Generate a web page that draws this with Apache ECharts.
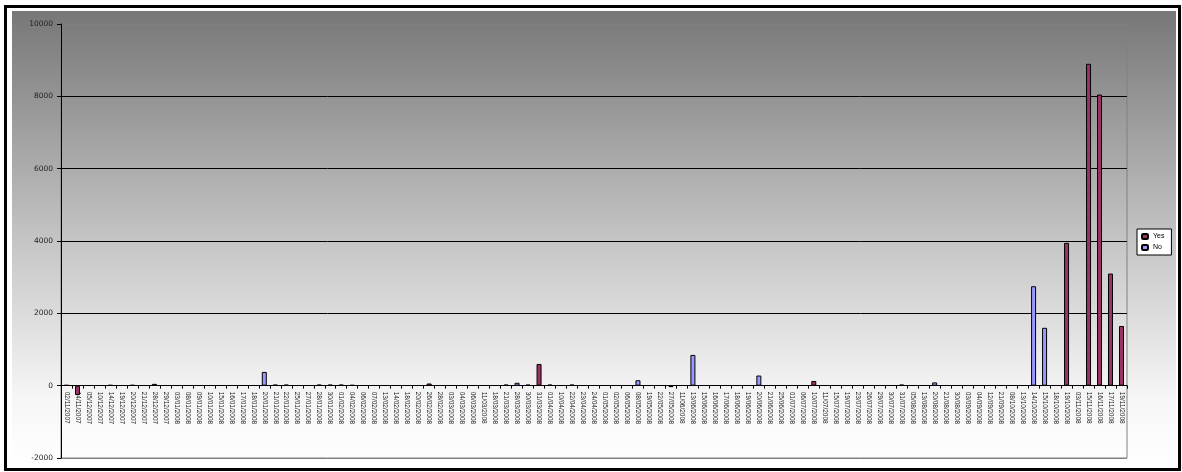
<!DOCTYPE html>
<html>
<head>
<meta charset="utf-8">
<script src="https://cdn.jsdelivr.net/npm/echarts@6/dist/echarts.min.js"></script>
<style>
  html, body { margin: 0; padding: 0; background: #ffffff; }
  #chart { width: 1182px; height: 472px; }
</style>
</head>
<body>
<div id="chart"></div>
<script>
// Trading days (dd/mm/yyyy)
const categories = [
  '02/11/2007','14/11/2007','05/12/2007','10/12/2007','14/12/2007','19/12/2007','20/12/2007','21/12/2007','28/12/2007','29/12/2007',
  '03/01/2008','08/01/2008','09/01/2008','10/01/2008','15/01/2008','16/01/2008','17/01/2008','18/01/2008','20/01/2008','21/01/2008',
  '22/01/2008','25/01/2008','27/01/2008','28/01/2008','30/01/2008','01/02/2008','04/02/2008','06/02/2008','07/02/2008','13/02/2008',
  '14/02/2008','18/02/2008','20/02/2008','26/02/2008','28/02/2008','03/03/2008','04/03/2008','06/03/2008','11/03/2008','18/03/2008',
  '21/03/2008','28/03/2008','30/03/2008','31/03/2008','01/04/2008','10/04/2008','22/04/2008','23/04/2008','24/04/2008','01/05/2008',
  '02/05/2008','06/05/2008','08/05/2008','19/05/2008','22/05/2008','27/05/2008','11/06/2008','13/06/2008','15/06/2008','16/06/2008',
  '17/06/2008','18/06/2008','19/06/2008','20/06/2008','21/06/2008','25/06/2008','01/07/2008','06/07/2008','10/07/2008','11/07/2008',
  '15/07/2008','19/07/2008','23/07/2008','26/07/2008','29/07/2008','30/07/2008','31/07/2008','05/08/2008','13/08/2008','20/08/2008',
  '21/08/2008','30/08/2008','03/09/2008','04/09/2008','12/09/2008','21/09/2008','08/10/2008','13/10/2008','14/10/2008','15/10/2008',
  '18/10/2008','19/10/2008','03/11/2008','15/11/2008','16/11/2008','17/11/2008','19/11/2008'
];

// Daily values per series, keyed by trading day (days without a value stay empty)
const yesValues = {
  '02/11/2007': 20, '14/11/2007': -260, '14/12/2007': 20, '20/12/2007': 20, '28/12/2007': 50,
  '21/01/2008': 30, '22/01/2008': 30, '28/01/2008': 30, '30/01/2008': 30, '01/02/2008': 30,
  '04/02/2008': 20, '26/02/2008': 60, '21/03/2008': 30, '30/03/2008': 30, '31/03/2008': 600,
  '01/04/2008': 30, '22/04/2008': 30, '27/05/2008': -40, '10/07/2008': 130, '31/07/2008': 30,
  '19/10/2008': 3950, '15/11/2008': 8900, '16/11/2008': 8050, '17/11/2008': 3100, '19/11/2008': 1650
};
const noValues = {
  '20/01/2008': 380, '28/03/2008': 80, '08/05/2008': 150, '13/06/2008': 850, '20/06/2008': 280,
  '20/08/2008': 90, '14/10/2008': 2750, '15/10/2008': 1600
};

const yTicks = { min: -2000, max: 10000, step: 2000 };
const titleText = 'Change in Net Total Holding Size by Day for the Trading Book';

const toSeries = (map) => categories.map(d => (d in map ? map[d] : null));

// plot box
const GRID = { left: 61, right: 55, top: 24, bottom: 14 };
const plotHeight = 472 - GRID.top - GRID.bottom;
// lift the category axis from the bottom edge up to the zero line
const zeroLift = plotHeight * (0 - yTicks.min) / (yTicks.max - yTicks.min);

const chart = echarts.init(document.getElementById('chart'), null, { renderer: 'canvas' });

chart.setOption({
  animation: false,
  backgroundColor: '#ffffff',
  graphic: [
    // outer frame
    { type: 'rect', z: -20, silent: true,
      shape: { x: 5.5, y: 6.5, width: 1174, height: 463 },
      style: { fill: '#ffffff', stroke: '#000000', lineWidth: 3 } },
    // grey-to-white chart area
    { type: 'rect', z: -19, silent: true,
      shape: { x: 12, y: 11, width: 1164, height: 455 },
      style: { fill: new echarts.graphic.LinearGradient(0, 0, 0, 1, [
        { offset: 0, color: '#777777' },
        { offset: 0.5, color: '#c4c4c4' },
        { offset: 0.85, color: '#f6f6f6' },
        { offset: 1, color: '#ffffff' }
      ]) } },
    // chart title: mostly above the top edge, its box padded downward so it stays on the page
    { type: 'text', z: 5, silent: true,
      style: { text: titleText, x: 318, y: 9.5, verticalAlign: 'bottom', textAlign: 'left',
               padding: [0, 0, 10, 0],
               font: 'bold 16px "Liberation Serif"', fill: '#000000' } }
  ],
  grid: {
    left: GRID.left, right: GRID.right, top: GRID.top, bottom: GRID.bottom,
    outerBoundsMode: 'none', containLabel: false,
    show: true, borderColor: '#808080', borderWidth: 1, backgroundColor: 'transparent'
  },
  legend: {
    orient: 'vertical', left: 1137, top: 229,
    backgroundColor: '#ffffff', borderColor: '#000000', borderWidth: 1,
    padding: [4, 7, 4, 4], itemGap: 4, itemWidth: 6, itemHeight: 5,
    textStyle: { fontSize: 7, fontFamily: 'Liberation Sans', color: '#000000' },
    data: ['Yes', 'No']
  },
  xAxis: {
    type: 'category',
    data: categories,
    position: 'bottom',
    offset: -zeroLift,
    axisLine: { onZero: false, lineStyle: { color: '#000000', width: 1 } },
    axisTick: { show: true, interval: 0, length: 3, lineStyle: { color: '#000000' } },
    axisLabel: { interval: 0, rotate: -90, fontSize: 6.5, fontFamily: 'Liberation Sans', color: '#222222',
                 margin: 6, hideOverlap: false },
    splitLine: { show: false }
  },
  yAxis: {
    type: 'value',
    min: yTicks.min, max: yTicks.max, interval: yTicks.step,
    axisLine: { show: true, lineStyle: { color: '#000000', width: 1 } },
    axisTick: { show: true, length: 4, lineStyle: { color: '#000000' } },
    axisLabel: { fontSize: 7.5, fontFamily: 'DejaVu Sans', color: '#222222', margin: 8,
                 formatter: (v) => String(v) },
    splitLine: { show: true, lineStyle: { color: ['#808080', '#000000', '#000000', '#000000', '#000000', '#000000', '#808080'], width: 1 } }
  },
  series: [
    { name: 'Yes', type: 'bar', data: toSeries(yesValues), barWidth: 5, barGap: '-100%',
      itemStyle: { color: '#993366', borderColor: '#000000', borderWidth: 1 } },
    { name: 'No', type: 'bar', data: toSeries(noValues), barWidth: 5, barGap: '-100%',
      itemStyle: { color: '#9999ff', borderColor: '#000000', borderWidth: 1 } }
  ]
});
</script>
</body>
</html>
